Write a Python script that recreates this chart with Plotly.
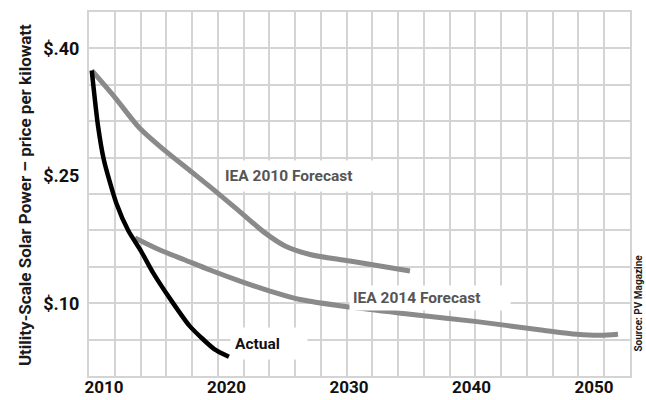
import plotly.graph_objects as go

# ---- data ----
actual_years = [2009, 2009.5, 2010, 2011, 2012, 2013, 2014, 2015.5, 2017, 2019, 2020.2]
actual_price = [0.374, 0.31, 0.268, 0.218, 0.185, 0.162, 0.136, 0.103, 0.073, 0.046, 0.037]

iea2010_years = [2009, 2010.9, 2012.94, 2014.98, 2017.02, 2019.06, 2021.1, 2023.14, 2024.78, 2026.82, 2030.08, 2034.98]
iea2010_price = [0.374, 0.3421, 0.3056, 0.2796, 0.256, 0.2323, 0.2076, 0.1828, 0.1674, 0.1574, 0.1497, 0.1379]

iea2014_years = [2012.53, 2014.57, 2016.61, 2018.65, 2021.1, 2023.55, 2026.0, 2030.08, 2034.98, 2040.45, 2045.84, 2048.61, 2050.49, 2051.96]
iea2014_price = [0.1769, 0.1627, 0.1509, 0.1391, 0.1261, 0.1143, 0.1043, 0.0954, 0.0871, 0.0783, 0.0682, 0.0635, 0.0623, 0.0635]

year_ticks = [2010, 2020, 2030, 2040, 2050]
price_ticks = [0.10, 0.25, 0.40]
price_labels = ["$.10", "$.25", "$.40"]

# ---- layout constants ----
X0, X1 = 2008.776, 2052.94
NCOL = 21
D = 0.3 / 7
Y0, Y1 = 0.10 - 2 * D, 0.40 + D

FONT = "Roboto, Liberation Sans, Arial, sans-serif"
GRID = "rgb(212,212,212)"
GRAY = "rgb(138,138,138)"

fig = go.Figure()
fig.add_trace(go.Scatter(x=iea2010_years, y=iea2010_price, mode="lines",
                         line=dict(color=GRAY, width=5, shape="spline", smoothing=0.8),
                         hoverinfo="skip", showlegend=False))
fig.add_trace(go.Scatter(x=iea2014_years, y=iea2014_price, mode="lines",
                         line=dict(color=GRAY, width=5, shape="spline", smoothing=0.8),
                         hoverinfo="skip", showlegend=False))
fig.add_trace(go.Scatter(x=actual_years, y=actual_price, mode="lines",
                         line=dict(color="black", width=4.5, shape="spline", smoothing=0.6),
                         hoverinfo="skip", showlegend=False))
# label axes
fig.add_trace(go.Scatter(x=[None], y=[None], xaxis="x2", yaxis="y2",
                         hoverinfo="skip", showlegend=False))

fig.update_layout(
    width=646, height=400,
    margin=dict(l=89, r=16, t=12, b=24),
    paper_bgcolor="white", plot_bgcolor="white",
    font=dict(family=FONT, color="#1a1a1a"),
    xaxis=dict(range=[X0, X1], tickmode="linear", tick0=X0, dtick=(X1 - X0) / NCOL,
               showticklabels=False, showgrid=True, gridcolor=GRID, gridwidth=1.5, automargin=False,
               showline=True, linecolor=GRID, linewidth=1.5, mirror=True, zeroline=False),
    yaxis=dict(range=[Y0, Y1], tickmode="linear", tick0=0.10, dtick=D,
               showticklabels=False, showgrid=True, gridcolor=GRID, gridwidth=1.5, automargin=False,
               showline=True, linecolor=GRID, linewidth=1.5, mirror=True, zeroline=False),
    xaxis2=dict(range=[X0, X1], overlaying="x", anchor="free", position=0.004, side="bottom",
                automargin=False,
                tickmode="array", tickvals=year_ticks, ticktext=["<b>%d</b>" % v for v in year_ticks],
                showgrid=False, zeroline=False, ticks="",
                tickfont=dict(family=FONT, size=17, color="#111")),
    yaxis2=dict(range=[Y0, Y1], overlaying="y", anchor="x", side="left", automargin=False,
                tickmode="array", tickvals=price_ticks, ticktext=["<b>%s</b>" % t for t in price_labels],
                showgrid=False, zeroline=False, ticks="outside", ticklen=5, tickcolor="rgba(0,0,0,0)",
                tickfont=dict(family=FONT, size=18, color="#111")),
)

def label(text, x, y, w, h, pad, color):
    fig.add_annotation(x=x, y=y, xref="x", yref="y", text="<b>%s</b>" % text, showarrow=False,
                       width=w, height=h, align="left", valign="middle", bgcolor="white", borderpad=pad,
                       xanchor="center", yanchor="middle",
                       font=dict(family=FONT, size=15.5, color=color))

label("IEA 2010 Forecast", 2026.15, 0.250, 154, 22, 4, "#555555")
label("IEA 2014 Forecast", 2036.6, 0.1065, 154, 18, 3, "#555555")
label("Actual", 2023.5, 0.0523, 68, 23, 4, "#111111")

fig.add_annotation(x=-0.1183, y=0.497, xref="paper", yref="paper", textangle=-90,
                   xanchor="center", yanchor="middle",
                   text="<b>Utility-Scale Solar Power – price per kilowatt</b>", showarrow=False,
                   font=dict(family=FONT, size=17, color="#1a1a1a"))
fig.add_annotation(x=1.0139, y=0.2005, xref="paper", yref="paper", textangle=-90,
                   xanchor="center", yanchor="middle", borderpad=0,
                   text="<b>Source: PV Magazine</b>", showarrow=False,
                   font=dict(family=FONT, size=10, color="#1a1a1a"))

fig.write_html("out.html")
